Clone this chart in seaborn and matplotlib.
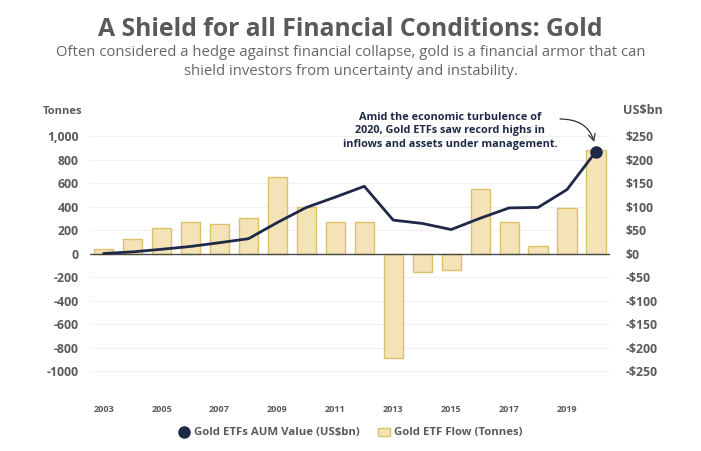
import numpy as np
import pandas as pd
import matplotlib
matplotlib.use("Agg")
import matplotlib.pyplot as plt
from matplotlib.lines import Line2D
from matplotlib.patches import Patch
import seaborn as sns

# ---- data ----
years = [2003, 2004, 2005, 2006, 2007, 2008, 2009, 2010, 2011,
         2012, 2013, 2014, 2015, 2016, 2017, 2018, 2019, 2020]
flow_tonnes = [40, 125, 213, 270, 253, 305, 650, 396, 265,
               265, -891, -157, -137, 550, 265, 66, 390, 880]
aum_usbn = [0, 3.5, 9, 15, 23, 31.5, 66, 98, 120,
            143, 71, 64, 51, 75, 97, 98, 136, 217]
left_ticks = [1000, 800, 600, 400, 200, 0, -200, -400, -600, -800, -1000]
left_labels = ["1,000", "800", "600", "400", "200", "0", "-200", "-400",
               "-600", "-800", "-1000"]
right_ticks = [250, 200, 150, 100, 50, 0, -50, -100, -150, -200, -250]
right_labels = ["$250", "$200", "$150", "$100", "$50", "$0", "-$50", "-$100",
                "-$150", "-$200", "-$250"]
xtick_years = [2003, 2005, 2007, 2009, 2011, 2013, 2015, 2017, 2019]

df = pd.DataFrame({"year": years, "flow": flow_tonnes, "aum": aum_usbn})

sns.set_theme(style="white")
plt.rcParams["font.family"] = ["Open Sans", "DejaVu Sans"]

GREY = "#5a5a5a"
NAVY = "#1f2847"
BAR_FACE = "#f3e3b6"
BAR_EDGE = "#dcc16a"

fig = plt.figure(figsize=(7.01, 4.51), dpi=100)
ax = fig.add_axes([0.128, 0.1513, 0.742, 0.5732])

# faint gridlines
for t in left_ticks:
    if t != 0:
        ax.axhline(t, color="#f1f1f1", lw=0.8, zorder=0)

sns.barplot(data=df, x="year", y="flow", native_scale=True, width=0.66,
            color=BAR_FACE, edgecolor=BAR_EDGE, linewidth=1, saturation=1,
            ax=ax, zorder=2)
ax.axhline(0, color="#4a4a4a", lw=1, zorder=3)

ax.set_xlim(2002.52, 2020.48)
ax.set_ylim(-1100, 1100)
ax.set_yticks(left_ticks)
ax.set_yticklabels(left_labels)
ax.set_xticks(xtick_years)
ax.set_xticklabels([str(y) for y in xtick_years])
ax.set_xlabel("")
ax.set_ylabel("")
ax.tick_params(axis="y", length=0, pad=8, labelsize=8.8, labelcolor=GREY)
ax.tick_params(axis="x", length=0, pad=16, labelsize=6.5, labelcolor=GREY)
for lab in ax.get_yticklabels() + ax.get_xticklabels():
    lab.set_fontweight("bold")
for s in ax.spines.values():
    s.set_visible(False)

# AUM line on the right axis
ax2 = ax.twinx()
sns.lineplot(data=df, x="year", y="aum", color=NAVY, lw=2, ax=ax2, zorder=4)
ax2.plot(years[-1], aum_usbn[-1], "o", color=NAVY, ms=8, zorder=5)
ax2.set_ylim(-275, 275)
ax2.set_yticks(right_ticks)
ax2.set_yticklabels(right_labels)
ax2.set_ylabel("")
ax2.tick_params(axis="y", length=0, pad=11, labelsize=8.8, labelcolor=GREY)
for lab in ax2.get_yticklabels():
    lab.set_fontweight("bold")
for s in ax2.spines.values():
    s.set_visible(False)
ax2.grid(False)

# titles
fig.text(0.5, 1 - 29 / 451, "A Shield for all Financial Conditions: Gold",
         ha="center", va="center", fontsize=17.8, fontweight="bold", color=GREY)
fig.text(0.5, 1 - 62 / 451,
         "Often considered a hedge against financial collapse, gold is a financial armor that can\n"
         "shield investors from uncertainty and instability.",
         ha="center", va="center", fontsize=10.7, color="#666666", linespacing=1.3)

fig.text(82 / 701, 1 - 111 / 451, "Tonnes", ha="right", va="center",
         fontsize=8, fontweight="bold", color=GREY)
fig.text(623 / 701, 1 - 111 / 451, "US$bn", ha="left", va="center",
         fontsize=9, fontweight="bold", color=GREY)

# annotation
fig.text(450 / 701, 1 - 131 / 451,
         "Amid the economic turbulence of\n2020, Gold ETFs saw record highs in\n"
         "inflows and assets under management.",
         ha="center", va="center", fontsize=7.8, fontweight="bold", color=NAVY,
         linespacing=1.25)
ax2.annotate("", xy=(years[-1], aum_usbn[-1]), xycoords="data",
             xytext=(560 / 701, 1 - 119 / 451), textcoords="figure fraction",
             arrowprops=dict(arrowstyle="->", connectionstyle="arc3,rad=-0.45",
                             color="#333333", lw=0.9, shrinkB=7, shrinkA=0))

# legend
handles = [Line2D([], [], marker="o", ls="", color=NAVY, ms=8),
           Patch(facecolor=BAR_FACE, edgecolor=BAR_EDGE)]
leg = fig.legend(handles, ["Gold ETFs AUM Value (US$bn)", "Gold ETF Flow (Tonnes)"],
                 loc="center", bbox_to_anchor=(0.5, 1 - 433 / 451), ncol=2,
                 frameon=False, fontsize=8.2, handletextpad=0.4, columnspacing=1.6,
                 handlelength=1.0)
for t in leg.get_texts():
    t.set_color(GREY)
    t.set_fontweight("bold")

fig.savefig("out.png", dpi=100)
